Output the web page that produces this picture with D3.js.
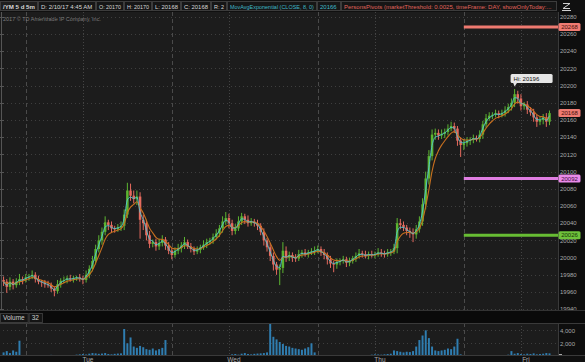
<!DOCTYPE html>
<html><head><meta charset="utf-8">
<script src="https://cdn.jsdelivr.net/npm/d3@7"></script>
<style>
html,body{margin:0;padding:0;background:#101010;overflow:hidden}
svg{display:block}
text{font-family:"Liberation Sans",Arial,sans-serif}
</style></head><body>
<svg id="c" width="585" height="362"></svg>
<script>
// ---------------- DATA ----------------
const closes = [19972,19966,19972,19968,19972,19975,19974,19977,19978,19980,
 19975,19972,19971,19969,19968,19964,19961,19969,19973,19974,
 19976,19975,19976,19977,19976,19974,19980,19987,19996,20010,
 20020,20030,20041,20038,20034,20033,20035,20037,20050,20078,
 20072,20068,20071,20044,20040,20026,20016,20018,20013,20017,
 20021,20014,20008,20003,20008,20011,20014,20018,20013,20010,
 20007,20009,20012,20015,20018,20020,20024,20028,20034,20042,
 20046,20040,20031,20034,20042,20048,20044,20040,20042,20040,
 20037,20030,20020,20012,20002,19992,19986,19988,20008,20000,
 20003,20000,19999,20004,20006,20004,20006,20007,20008,20010,
 20006,20003,19998,19993,19992,19995,19996,19998,19994,19996,
 19999,20002,20005,20004,20002,20004,20003,20004,20006,20005,
 20004,20006,20007,20011,20040,20038,20035,20031,20029,20027,
 20033,20042,20062,20092,20118,20143,20145,20142,20144,20146,
 20150,20153,20150,20136,20131,20133,20136,20137,20139,20138,
 20143,20155,20162,20165,20166,20168,20166,20168,20171,20175,
 20180,20190,20185,20176,20178,20172,20169,20163,20158,20160,
 20163,20158,20168];
const hiWick = [4,3,5,3,4,6,3,4,3,5, 3,4,2,3,4,3,2,5,3,4, 3,4,3,2,4,3,5,4,6,5,
 6,5,7,3,4,3,4,5,6,9, 8,6,7,5,6,4,5,3,4,5, 5,3,4,3,4,5,4,6,3,4,
 3,4,3,5,4,3,4,5,4,6, 7,5,4,5,6,4,3,5,4,3, 4,3,4,3,5,4,3,4,10,5,
 4,3,4,5,3,4,3,4,5,4, 3,4,3,4,3,4,3,4,3,4, 3,4,5,3,4,3,4,3,5,4,
 3,4,3,5,6,5,4,3,4,5, 5,6,7,8,7,6,5,4,5,4, 5,5,4,3,4,5,4,3,4,3,
 5,4,5,4,3,4,3,4,5,4, 5,6,4,5,3,4,3,4,3,4, 4,5,3];
const loWick = [5,7,4,5,3,4,5,3,4,3, 4,3,5,4,3,4,6,3,4,3, 4,3,4,3,4,5,3,4,3,4,
 4,5,4,6,5,4,3,4,5,4, 6,5,7,22,8,6,5,4,5,4, 4,5,4,5,3,4,5,4,3,4,
 4,3,4,3,4,3,4,3,4,5, 4,6,5,4,3,4,5,4,3,4, 5,4,6,5,6,7,6,18,6,5,
 4,5,4,3,4,3,4,3,4,3, 4,5,6,5,9,5,4,3,5,4, 3,4,3,4,3,4,3,4,3,4,
 4,3,4,3,6,5,4,5,6,9, 5,4,5,6,7,5,6,5,4,5, 4,3,5,6,14,6,4,5,4,3,
 4,5,4,3,4,3,4,3,4,3, 4,5,6,5,4,5,4,5,6,4, 5,6,4];
const volumes = [600,800,500,900,700,2400,
 200,150,180,120,150,200,160,140,180,220,150,130,170,160,140,180,200,
 250,300,350,280,400,500,450,380,420,500,350,300,380,420,450,
 4200,
 2000,2900,1500,1300,1600,1400,1100,1000,1200,900,1100,1300,2500,
 150,120,100,130,110,100,120,140,100,90,110,130,120,100,140,160,130,150,170,200,
 300,350,250,400,500,350,300,380,420,450,500,600,
 5000,
 3000,2600,2200,1900,1600,1500,1300,1200,1100,1000,1200,1400,2000,
 600,200,180,150,200,160,140,180,150,130,160,150,140,170,150,160,180,200,250,300,280,250,300,350,400,
 900,800,
 700,600,700,650,800,
 1500,2500,3200,4000,2800,1500,900,800,900,1000,1200,1100,1500,2700,
 300,200,150,120,100,130,150,120,100,140,160,130,150,180,200,250,
 800,
 400,500,350,300,400,350,450,300,350,400,500,450];
const priceTicks = [19940,19960,19980,20000,20020,20040,20060,20080,20100,20120,20140,20160,20180,20200,20220,20240,20260,20280];
const volumeTicks = [2000,4000];
const volumeTickLabels = ["2,000","4,000"];
const dayLabels = ["Tue","Wed","Thu","Fri"];
const dayStarts = [25.5,71.5,117.5,163.5];      // bar index of midnight
const sessionStarts = [7.5,53.5,99.5,145.5];    // bar index of session open
const pivotLevels = [20268,20092,20026];
const pivotNames = ["R1","PP","S1"];
const headerFields = ["/YM 5 d 5m","D: 2/10/17 4:45 AM","O: 20170","H: 20170","L: 20168","C: 20168","R: 2"];
const studyFields = ["MovAvgExponential (CLOSE, 8, 0)","20166","PersonsPivots (marketThreshold: 0.0025, timeFrame: DAY, showOnlyToday:..."];
const volumeHeader = ["Volume","32"];
const copyright = "2017 \u00A9 TD Ameritrade IP Company, Inc.";

// ---------------- LAYOUT / STYLE ----------------
const W = 585, H = 362;
const plotR = 558, priceTop = 12, priceBot = 311, volTop = 323, volBot = 355;
const headerEdges = [0,38,96,124,152,181,211,227,317,341,557];
const C = {bg:"#1c1c1c", axisBg:"#0e0e0e", grid:"#3e3e3e", up:"#5cb531", down:"#e56a5e",
  fast:"#52c4d2", slow:"#c8701f", vol:"#2f7db0", label:"#a8a8a8"};
const pivotStyle = {R1:{line:"#ef7a70", tag:"#f07b72", txt:"#4a0f0b"},
  PP:{line:"#e07ee2", tag:"#e98ae9", txt:"#3f0b40"},
  S1:{line:"#67bd33", tag:"#6ec23b", txt:"#173307"}};

const svg = d3.select("#c");
const N = closes.length;
const x = d3.scaleLinear().domain([0, N]).range([2, 551.1]);
const y = d3.scaleLinear().domain([20000, 20260]).range([257.6, 34]);
const yv = d3.scaleLinear().domain([0, 4000]).range([356.3, 330.3]);
const dx = x(1) - x(0);

const bars = closes.map((c, i) => {
  const o = i ? closes[i-1] : c + 2;
  return {i, o, c, h: Math.max(o, c) + hiWick[i], l: Math.min(o, c) - loWick[i], v: volumes[i]};
});

// backgrounds
svg.append("rect").attr("width", W).attr("height", H).attr("fill", "#101010");
svg.append("rect").attr("x", 0).attr("y", priceTop).attr("width", plotR).attr("height", priceBot - priceTop).attr("fill", C.bg);
svg.append("rect").attr("x", 0).attr("y", volTop).attr("width", plotR).attr("height", volBot - volTop).attr("fill", C.bg);
svg.append("rect").attr("x", plotR).attr("y", priceTop).attr("width", W - plotR).attr("height", priceBot - priceTop).attr("fill", C.axisBg);
svg.append("rect").attr("x", plotR).attr("y", volTop).attr("width", W - plotR).attr("height", volBot - volTop).attr("fill", C.axisBg);
svg.append("rect").attr("x", 0).attr("y", priceBot).attr("width", W).attr("height", volTop - priceBot).attr("fill", "#0a0a0a");

const defs = svg.append("defs");
defs.append("clipPath").attr("id", "pc").append("rect").attr("x", 0).attr("y", priceTop).attr("width", plotR).attr("height", priceBot - priceTop);
defs.append("clipPath").attr("id", "vc").append("rect").attr("x", 0).attr("y", volTop).attr("width", plotR).attr("height", volBot - volTop);

// grid - price
const gP = svg.append("g").attr("clip-path", "url(#pc)");
gP.selectAll("line.h").data(priceTicks).join("line")
  .attr("x1", 3).attr("x2", plotR).attr("y1", d => Math.round(y(d)) + 0.5).attr("y2", d => Math.round(y(d)) + 0.5)
  .attr("stroke", C.grid).attr("stroke-dasharray", "1,3");
function vlines(g, top, bot) {
  g.selectAll(null).data(sessionStarts).join("line")
    .attr("x1", d => Math.round(x(d)) + 0.5).attr("x2", d => Math.round(x(d)) + 0.5)
    .attr("y1", top).attr("y2", bot).attr("stroke", "#4a4a4a").attr("stroke-dasharray", "4,3");
  g.selectAll(null).data(dayStarts).join("line")
    .attr("x1", d => Math.round(x(d)) + 0.5).attr("x2", d => Math.round(x(d)) + 0.5)
    .attr("y1", top).attr("y2", bot).attr("stroke", "#444").attr("stroke-dasharray", "1,2");
}
vlines(gP, priceTop, priceBot);

// left edge
svg.append("line").attr("x1", 1.5).attr("x2", 1.5).attr("y1", priceTop).attr("y2", priceBot).attr("stroke", "#555");
svg.selectAll("line.lt").data(priceTicks).join("line").attr("class", "lt")
  .attr("x1", 0).attr("x2", 4).attr("y1", d => Math.round(y(d)) + 0.5).attr("y2", d => Math.round(y(d)) + 0.5).attr("stroke", "#555");

// copyright
svg.append("text").attr("x", 3).attr("y", 21).attr("font-size", 5.5).attr("fill", "#7a7a7a").text(copyright);

// pivot lines
const pivStart = x(sessionStarts[3]);
gP.selectAll("line.piv").data(pivotLevels).join("line")
  .attr("x1", pivStart).attr("x2", plotR).attr("y1", d => y(d)).attr("y2", d => y(d))
  .attr("stroke", (d, i) => pivotStyle[pivotNames[i]].line).attr("stroke-width", 3);

// candles
const cg = gP.append("g");
cg.selectAll("line.w").data(bars).join("line")
  .attr("x1", d => x(d.i + 0.5)).attr("x2", d => x(d.i + 0.5))
  .attr("y1", d => y(d.h)).attr("y2", d => y(d.l))
  .attr("stroke", d => d.c >= d.o ? C.up : C.down).attr("stroke-width", 1);
cg.selectAll("rect.b").data(bars).join("rect")
  .attr("x", d => x(d.i + 0.5) - 1.25).attr("width", 2.5)
  .attr("y", d => y(Math.max(d.o, d.c))).attr("height", d => Math.max(1, Math.abs(y(d.o) - y(d.c))))
  .attr("fill", d => d.c >= d.o ? C.up : C.down);

// EMAs
function ema(arr, n) { const k = 2 / (n + 1); let e = arr[0]; return arr.map(v => (e = e + k * (v - e))); }
const fast = ema(closes, 2), slow = ema(closes, 5);
const line = d3.line().x((d, i) => x(i + 0.5)).y(d => y(d)).curve(d3.curveMonotoneX);
gP.append("path").attr("d", line(slow)).attr("fill", "none").attr("stroke", C.slow).attr("stroke-width", 1.1);
gP.append("path").attr("d", line(fast)).attr("fill", "none").attr("stroke", C.fast).attr("stroke-width", 1).attr("opacity", 0.9);

// Hi label
const hiIdx = d3.maxIndex(bars, d => d.h);
const hb = bars[hiIdx];
const hx = x(hb.i + 0.5), hy = y(hb.h);
const hiG = svg.append("g");
hiG.append("rect").attr("x", hx - 4).attr("y", hy - 15).attr("width", 42).attr("height", 9).attr("rx", 1.5).attr("fill", "#e6e6e6");
hiG.append("path").attr("d", `M${hx - 1.5},${hy - 6.2} L${hx + 2.5},${hy - 6.2} L${hx},${hy - 2.5} Z`).attr("fill", "#e6e6e6");
hiG.append("text").attr("x", hx - 1).attr("y", hy - 8.3).attr("font-size", 6).attr("fill", "#111").text("Hi: " + d3.format("d")(hb.h));

// right axis
svg.append("line").attr("x1", plotR + 0.5).attr("x2", plotR + 0.5).attr("y1", priceTop).attr("y2", priceBot).attr("stroke", "#3a3a3a");
svg.selectAll("text.pt").data(priceTicks).join("text").attr("class", "pt")
  .attr("x", 560).attr("y", d => y(d) + 2.2).attr("font-size", 6).attr("fill", C.label).text(d => d);

// tags
const tags = pivotLevels.map((v, i) => ({v, s: pivotStyle[pivotNames[i]]}));
tags.push({v: closes[N - 1], s: {tag: "#f07b72", txt: "#4a0f0b"}});
const tg = svg.selectAll("g.tag").data(tags).join("g").attr("class", "tag");
tg.append("rect").attr("x", 558.5).attr("y", d => y(d.v) - 4).attr("width", 22).attr("height", 8).attr("rx", 1.5)
  .attr("fill", d => d.s.tag);
tg.append("text").attr("x", 569.5).attr("y", d => y(d.v) + 2.2).attr("text-anchor", "middle").attr("font-size", 6)
  .attr("fill", d => d.s.txt).text(d => d.v);

// volume panel
const gV = svg.append("g").attr("clip-path", "url(#vc)");
gV.selectAll("line.vh").data(volumeTicks).join("line")
  .attr("x1", 3).attr("x2", plotR).attr("y1", d => Math.round(yv(d)) + 0.5).attr("y2", d => Math.round(yv(d)) + 0.5)
  .attr("stroke", C.grid).attr("stroke-dasharray", "1,3");
vlines(gV, volTop, volBot);
gV.selectAll("rect.v").data(bars).join("rect")
  .attr("x", d => x(d.i) + 0.6).attr("width", dx - 1.2)
  .attr("y", d => yv(d.v)).attr("height", d => Math.max(0, volBot - yv(d.v)))
  .attr("fill", C.vol);
svg.append("line").attr("x1", 0).attr("x2", W).attr("y1", volTop + 0.5).attr("y2", volTop + 0.5).attr("stroke", "#3a3a3a");
svg.append("line").attr("x1", 0).attr("x2", W).attr("y1", volBot + 0.5).attr("y2", volBot + 0.5).attr("stroke", "#3a3a3a");
svg.append("line").attr("x1", 0).attr("x2", W).attr("y1", priceBot - 0.5).attr("y2", priceBot - 0.5).attr("stroke", "#333");
svg.append("line").attr("x1", plotR + 0.5).attr("x2", plotR + 0.5).attr("y1", volTop).attr("y2", volBot).attr("stroke", "#3a3a3a");
svg.selectAll("text.vt").data(volumeTicks).join("text").attr("class", "vt")
  .attr("x", 560).attr("y", d => yv(d) + 2.2).attr("font-size", 6).attr("fill", C.label).text((d, i) => volumeTickLabels[i]);
svg.append("line").attr("x1", 559).attr("x2", 562).attr("y1", volBot - 0.5).attr("y2", volBot - 0.5).attr("stroke", C.label);

// volume header
let vxh = 0;
volumeHeader.forEach((t, i) => {
  const g = svg.append("g");
  const tx = g.append("text").attr("x", vxh + 3).attr("y", 320).attr("font-size", 6.5).attr("fill", "#cfcfcf").text(t);
  const w = tx.node().getComputedTextLength() + 6;
  g.insert("rect", "text").attr("x", vxh + 0.5).attr("y", 313.5).attr("width", w).attr("height", 9).attr("fill", "#141414").attr("stroke", "#3a3a3a");
  vxh += w + 1;
});

// x-axis day labels
svg.selectAll("text.day").data(dayLabels).join("text").attr("class", "day")
  .attr("x", (d, i) => x(dayStarts[i]) + 5).attr("y", 362).attr("text-anchor", "middle")
  .attr("font-size", 6.5).attr("fill", C.label).text(d => d);

// header
svg.append("rect").attr("x", 0).attr("y", 0).attr("width", W).attr("height", priceTop).attr("fill", "#101010");
const cells = headerFields.map((t, i) => ({t, col: "#d8d8d8", bold: i === 0}))
  .concat(studyFields.map((t, i) => ({t, col: i < 2 ? "#3fb9c8" : "#e0655c", bold: false})));
cells.forEach((c, i) => {
  const x0 = headerEdges[i], w = headerEdges[i + 1] - x0 - 1;
  const g = svg.append("g");
  g.append("rect").attr("x", x0 + 0.5).attr("y", 1.5).attr("width", w).attr("height", 9)
    .attr("fill", c.bold ? "#1e1e1e" : "#161616").attr("stroke", "#3c3c3c");
  const fs = c.bold ? 6.5 : 6;
  const t = g.append("text").attr("x", x0 + 3).attr("y", 8.6).attr("font-size", fs)
    .attr("font-weight", c.bold ? "bold" : "normal").attr("fill", c.col).text(c.t);
  const avail = w - 5, len = t.node().getComputedTextLength();
  if (len > avail) t.attr("font-size", fs * avail / len);
});
// zoom icon
svg.append("path").attr("d", "M563,3.5 L570,3.5 L563,8.5 L570,8.5").attr("fill", "none").attr("stroke", "#cfcfcf").attr("stroke-width", 1);
svg.append("line").attr("x1", 562).attr("x2", 571).attr("y1", 10.5).attr("y2", 10.5).attr("stroke", "#cfcfcf");
</script>
</body></html>
